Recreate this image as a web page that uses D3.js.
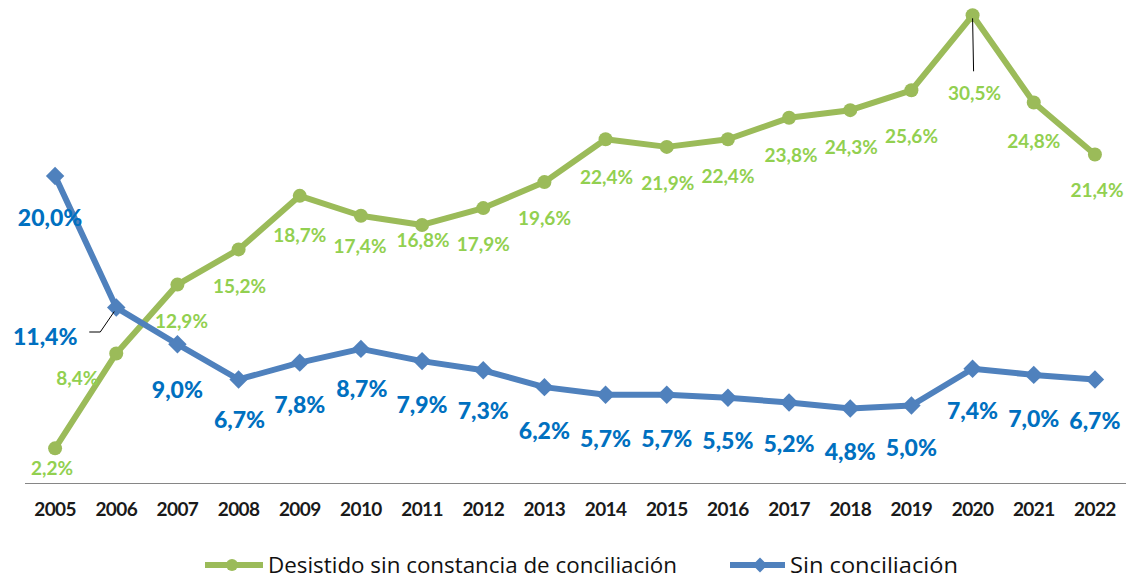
<!DOCTYPE html>
<html><head><meta charset="utf-8">
<script src="https://cdn.jsdelivr.net/npm/d3@7"></script>
<style>
html,body{margin:0;padding:0;background:#fff;}
svg{display:block;font-family:Lato,"Open Sans",sans-serif;}
</style></head>
<body><svg id="chart" width="1130" height="579"></svg>
<script>
const years = ["2005","2006","2007","2008","2009","2010","2011","2012","2013","2014","2015","2016","2017","2018","2019","2020","2021","2022"];
const desistido = [2.2,8.4,12.9,15.2,18.7,17.4,16.8,17.9,19.6,22.4,21.9,22.4,23.8,24.3,25.6,30.5,24.8,21.4];
const sinConciliacion = [20.0,11.4,9.0,6.7,7.8,8.7,7.9,7.3,6.2,5.7,5.7,5.5,5.2,4.8,5.0,7.4,7.0,6.7];
const seriesNames = ["Desistido sin constancia de conciliación","Sin conciliación"];

// label layout offsets (label centre relative to point)
const greenDx = [-3,-39,4,1,0,-1,1,0,0,1,1,0,2,1,0,2,0,2];
const greenDy = [19,24,36,36,39,30,15,35,35,37,36,36,37,36,45,77,38,35];
const blueDx  = [-5,-71,0,1,0,1,0,0,0,0,0,0,0,0,0,0,0,0];
const blueDy  = [41,28,45,40,41,39,43,40,43,43,43,42,41,42,42,41,43,41];

const fmt = v => v.toFixed(1).replace(".", ",") + "%";
const svg = d3.select("#chart");

const x = d3.scaleBand().domain(years).range([24.5,1125.5]).padding(0);
const cx = d => x(d) + x.bandwidth()/2;
const y = d3.scaleLinear().domain([0,31.5]).range([482,0]);

const GREEN = "#9BBB59", GREEN_T = "#92D050", BLUE = "#4F81BD", BLUE_T = "#0070C0";

// axis
const ax = svg.append("g").attr("transform","translate(0,483)")
  .call(d3.axisBottom(x).tickSize(0).tickSizeOuter(0).tickPadding(20));
ax.select(".domain").attr("stroke","#868686").attr("stroke-width",1.2);
ax.selectAll("text").attr("font-size","19px").attr("font-weight","bold").attr("fill","#1a1a1a")
  .attr("letter-spacing","-0.6").attr("font-family","Lato, sans-serif");

const line = d3.line().x((d,i)=>cx(years[i])).y(d=>y(d));

// green series
svg.append("path").datum(desistido).attr("d",line).attr("fill","none")
  .attr("stroke",GREEN).attr("stroke-width",6).attr("stroke-linejoin","round");
svg.append("g").selectAll("circle").data(desistido).join("circle")
  .attr("cx",(d,i)=>cx(years[i])).attr("cy",d=>y(d)).attr("r",7).attr("fill",GREEN);

// blue series
svg.append("path").datum(sinConciliacion).attr("d",line).attr("fill","none")
  .attr("stroke",BLUE).attr("stroke-width",6).attr("stroke-linejoin","round");
svg.append("g").selectAll("path").data(sinConciliacion).join("path")
  .attr("d", d3.symbol().type(d3.symbolSquare).size(170))
  .attr("transform",(d,i)=>`translate(${cx(years[i])},${y(d)}) rotate(45)`)
  .attr("fill",BLUE);

// leader lines
svg.append("line").attr("x1",cx("2020")).attr("y1",y(30.5)+3).attr("x2",cx("2020")+1).attr("y2",y(30.5)+56)
  .attr("stroke","#000").attr("stroke-width",1);
svg.append("polyline")
  .attr("points",`${cx("2006")-27},332 ${cx("2006")-16},332 ${cx("2006")-2},${y(11.4)+4}`)
  .attr("fill","none").attr("stroke","#000").attr("stroke-width",1);

// labels
svg.append("g").selectAll("text").data(desistido).join("text")
  .attr("x",(d,i)=>cx(years[i])+greenDx[i]).attr("y",(d,i)=>y(d)+greenDy[i])
  .attr("text-anchor","middle").attr("dominant-baseline","central")
  .attr("font-size","19px").attr("font-weight","bold").attr("fill",GREEN_T)
  .text(fmt);
svg.append("g").selectAll("text").data(sinConciliacion).join("text")
  .attr("x",(d,i)=>cx(years[i])+blueDx[i]).attr("y",(d,i)=>y(d)+blueDy[i])
  .attr("text-anchor","middle").attr("dominant-baseline","central")
  .attr("font-size","23px").attr("font-weight","900").attr("fill",BLUE_T)
  .text(fmt);

// legend
const lg = svg.append("g").attr("transform","translate(0,565)");
[[205,GREEN,"circle",seriesNames[0],409],[730,BLUE,"diamond",seriesNames[1],168]].forEach(([lx,c,m,t,w])=>{
  const lw = m==="circle" ? 58 : 55;
  lg.append("line").attr("x1",lx).attr("x2",lx+lw).attr("y1",0).attr("y2",0).attr("stroke",c).attr("stroke-width",6);
  if(m==="circle") lg.append("circle").attr("cx",lx+27).attr("cy",0).attr("r",6).attr("fill",c);
  else lg.append("path").attr("d",d3.symbol().type(d3.symbolSquare).size(110)).attr("transform",`translate(${lx+30},0) rotate(45)`).attr("fill",c);
  lg.append("text").attr("x",lx+lw+5).attr("y",0).attr("dominant-baseline","central")
    .attr("font-size","21px").attr("font-family","'Open Sans', sans-serif").attr("fill","#111")
    .attr("textLength",w).attr("lengthAdjust","spacingAndGlyphs").text(t);
});
</script></body></html>
